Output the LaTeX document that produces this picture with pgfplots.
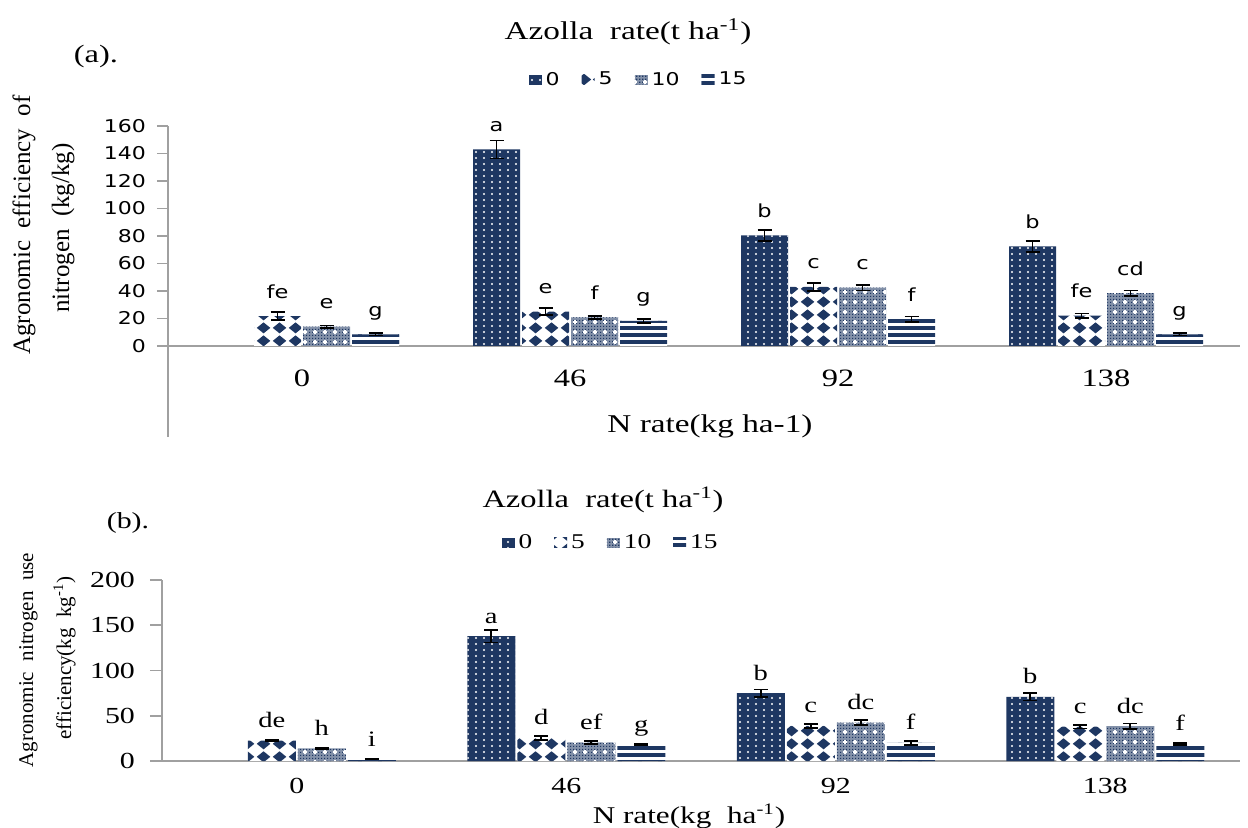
\documentclass[border=0pt]{standalone}
\usepackage{fontspec}
\setmainfont{Liberation Serif}[FakeStretch=1.3]
\newfontfamily\rserif{Liberation Serif}
\newfontfamily\sans{DejaVu Sans}[FakeStretch=1.25]
\usepackage{pgfplots}
\pgfplotsset{compat=1.18}
\usetikzlibrary{patterns}
\definecolor{navy}{RGB}{30,55,98}
\definecolor{axgray}{RGB}{160,160,160}
\newcommand{\fsz}[1]{\fontsize{#1}{#1}\selectfont}

\pgfdeclarepatternformonly{navydots}{\pgfpoint{-1pt}{-1pt}}{\pgfpoint{5pt}{4pt}}{\pgfpoint{4pt}{3pt}}{%
  \pgfpathcircle{\pgfpoint{2pt}{1.5pt}}{0.55pt}\pgfusepath{fill}}
\pgfdeclarepatternformonly{diamonds}{\pgfpointorigin}{\pgfpoint{8pt}{6.5pt}}{\pgfpoint{8pt}{6.5pt}}{%
  \pgfpathmoveto{\pgfpoint{4pt}{0.35pt}}\pgfpathlineto{\pgfpoint{7.6pt}{3.25pt}}%
  \pgfpathlineto{\pgfpoint{4pt}{6.15pt}}\pgfpathlineto{\pgfpoint{0.4pt}{3.25pt}}\pgfpathclose\pgfusepath{fill}}
\pgfdeclarepatternformonly{finedots}{\pgfpointorigin}{\pgfpoint{1.5pt}{1.5pt}}{\pgfpoint{1.5pt}{1.5pt}}{%
  \pgfpathrectangle{\pgfpointorigin}{\pgfpoint{0.8pt}{0.8pt}}\pgfusepath{fill}}
\pgfdeclarepatternformonly{whiteplus}{\pgfpoint{-1pt}{-1pt}}{\pgfpoint{6pt}{6pt}}{\pgfpoint{5pt}{5pt}}{%
  \pgfpathrectangle{\pgfpoint{2.1pt}{1.5pt}}{\pgfpoint{0.8pt}{2pt}}%
  \pgfpathrectangle{\pgfpoint{1.5pt}{2.1pt}}{\pgfpoint{2pt}{0.8pt}}\pgfusepath{fill}}
\pgfdeclarepatternformonly{hstripes}{\pgfpoint{-1pt}{0pt}}{\pgfpoint{11pt}{3.5pt}}{\pgfpoint{10pt}{3.5pt}}{%
  \pgfpathrectangle{\pgfpoint{-1pt}{0pt}}{\pgfpoint{12pt}{2pt}}\pgfusepath{fill}}

\pgfplotsset{
  sA/.style={fill=navy, draw=none, postaction={pattern=navydots, pattern color=white}},
  sB/.style={fill=white, draw=none, postaction={pattern=diamonds, pattern color=navy}},
  sC/.style={fill=navy!55!white, draw=none, postaction={pattern=finedots, pattern color=navy},
             postaction={pattern=whiteplus, pattern color=white}},
  sD/.style={fill=white, draw=none, postaction={pattern=hstripes, pattern color=navy}},
  myleg/.style={legend image code/.code={\path[##1] (0pt,-2.4pt) rectangle (6.5pt,2.6pt);}},
  myerr/.style={error bars/.cd, y dir=both, y explicit,
     error bar style={black, line width=0.8pt},
     error mark options={rotate=90, black, mark size=3.5pt, line width=0.8pt}},
}

\begin{document}
\begin{tikzpicture}
\path[use as bounding box] (0,0) rectangle (624pt,-413.5pt);

% ---------------- (a) ----------------
\begin{axis}[
  at={(84pt,-218.5pt)}, anchor=south west, scale only axis,
  width=536pt, height=155.5pt,
  xmin=-0.5, xmax=3.5, ymin=-66.2, ymax=160,
  axis y line*=left, axis x line*=middle,
  axis line style={axgray, line width=0.8pt},
  ytick={0,20,...,160}, xtick={0,1,2,3}, xticklabels={0,46,92,138},
  tick align=outside, major tick length=5.5pt,
  ytick style={axgray, line width=0.8pt}, xtick style={draw=none},
  yticklabel style={font=\sans\fsz{8.8}, xshift=-2pt},
  xticklabel style={font=\fsz{12.5}, yshift=-3pt},
  /pgf/number format/assume math mode=true,
  ybar=1pt, bar width=23.5pt,
  clip=false,
  point meta=explicit symbolic,
  nodes near coords,
  every node near coord/.append style={font=\sans\fsz{9}, anchor=base, yshift=9pt, black, fill=none, draw=none},
  legend style={at={(axis description cs:0.44,1.148)}, anchor=center, draw=none, fill=none,
    legend columns=4, font=\sans\fsz{8.8}, inner sep=0pt,
    /tikz/every even column/.append style={column sep=9pt}},
]
\addplot[sA, myleg, myerr] table[x=x, y=y, y error=e, meta=l] {
x y e l
1 143 6.5 a
2 80.5 4 b
3 72.5 4 b
};
\addlegendentry{0}
\addplot[sB, myleg, myerr] table[x=x, y=y, y error=e, meta=l] {
x y e l
0 21.8 3 fe
1 25 2.5 e
2 43 3 c
3 22 1.5 fe
};
\addlegendentry{5}
\addplot[sC, myleg, myerr] table[x=x, y=y, y error=e, meta=l] {
x y e l
0 14 1 e
1 20.8 1 f
2 42.5 2 c
3 38.5 2 cd
};
\addlegendentry{10}
\addplot[sD, myleg, myerr] table[x=x, y=y, y error=e, meta=l] {
x y e l
0 8.5 1 g
1 18.2 1.5 g
2 19.5 2 f
3 8.5 1 g
};
\addlegendentry{15}
\end{axis}

\node[font=\fsz{12.5}] at (48pt,-28pt) {(a).};
\node[font=\fsz{12.8}] at (314pt,-16pt) {Azolla\ \ rate(t ha\textsuperscript{-1})};
\node[font=\fsz{12.8}] at (355pt,-213pt) {N rate(kg ha-1)};
\node[rotate=90, anchor=base, font=\rserif\fsz{12.5}] at (15pt,-112.5pt) {Agronomic\ \ efficiency\ \ of};
\node[rotate=90, anchor=base, font=\rserif\fsz{12.5}] at (34.5pt,-114pt) {nitrogen\ \ (kg/kg)};

% ---------------- (b) ----------------
\begin{axis}[
  at={(81pt,-380.5pt)}, anchor=south west, scale only axis,
  width=539pt, height=90.5pt,
  xmin=-0.5, xmax=3.5, ymin=0, ymax=200,
  axis y line*=left, axis x line*=bottom,
  axis line style={axgray, line width=0.8pt},
  ytick={0,50,...,200}, xtick={0,1,2,3}, xticklabels={0,46,92,138},
  tick align=outside, major tick length=6pt,
  ytick style={axgray, line width=0.8pt}, xtick style={draw=none},
  yticklabel style={font=\fsz{11.5}, xshift=-4pt},
  xticklabel style={font=\fsz{11.5}, yshift=1pt},
  /pgf/number format/assume math mode=true,
  ybar=1pt, bar width=24pt,
  clip=false,
  point meta=explicit symbolic,
  nodes near coords,
  every node near coord/.append style={font=\fsz{11}, anchor=base, yshift=6.5pt, black, fill=none, draw=none},
  legend style={at={(axis description cs:0.417,1.204)}, anchor=center, draw=none, fill=none,
    legend columns=4, font=\fsz{10.5}, inner sep=0pt,
    /tikz/every even column/.append style={column sep=9pt}},
]
\addplot[sA, myleg, myerr] table[x=x, y=y, y error=e, meta=l] {
x y e l
1 138 7 a
2 75 4 b
3 71 4 b
};
\addlegendentry{0}
\addplot[sB, myleg, myerr] table[x=x, y=y, y error=e, meta=l] {
x y e l
0 22.5 1 de
1 25.5 2 d
2 38.7 2 c
3 38 2 c
};
\addlegendentry{5}
\addplot[sC, myleg, myerr] table[x=x, y=y, y error=e, meta=l] {
x y e l
0 14 1 h
1 20.6 1.5 ef
2 42.5 3 dc
3 38.5 3 dc
};
\addlegendentry{10}
\addplot[sD, myleg, myerr] table[x=x, y=y, y error=e, meta=l] {
x y e l
0 2.2 0.5 i
1 18.4 1 g
2 20 2 f
3 19 1 f
};
\addlegendentry{15}
\end{axis}

\node[font=\fsz{11.5}] at (64pt,-261.5pt) {(b).};
\node[font=\fsz{12.5}] at (301.5pt,-250pt) {Azolla\ \ rate(t ha\textsuperscript{-1})};
\node[font=\fsz{12}] at (344.5pt,-408pt) {N rate(kg\ \ ha\textsuperscript{-1})};
\node[rotate=90, anchor=base, font=\rserif\fsz{10.5}] at (16.5pt,-330pt) {Agronomic\ \ nitrogen\ \ use};
\node[rotate=90, anchor=base, font=\rserif\fsz{10.5}] at (35.5pt,-329pt) {efficiency(kg\ \ kg\textsuperscript{-1})};
\end{tikzpicture}
\end{document}
